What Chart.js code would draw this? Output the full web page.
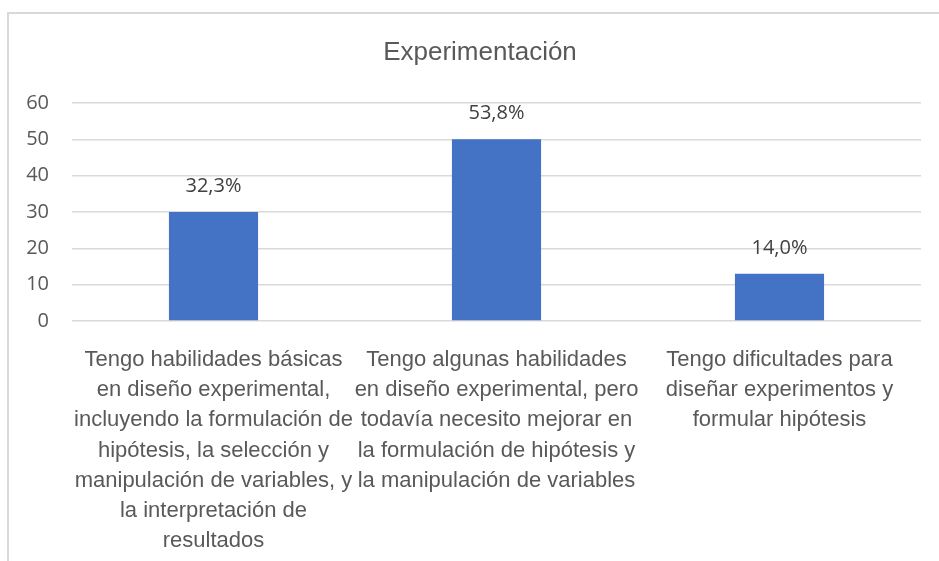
<!DOCTYPE html>
<html lang="es">
<head>
    <meta charset="UTF-8">
    <title>Experimentación</title>
    <script src="https://cdn.jsdelivr.net/npm/chart.js"></script>
    <style>
        body {
            margin: 0;
            background: #fff;
        }

        .wrap {
            position: relative;
            width: 939px;
            height: 561px;
        }

        .frame {
            position: absolute;
            left: 7px;
            top: 12px;
            width: 940px;
            height: 560px;
            border-left: 2px solid #d9d9d9;
            border-top: 2px solid #d9d9d9;
            pointer-events: none;
        }
    </style>
</head>
<body>
    <div class="wrap">
        <canvas id="chart" width="939" height="561"></canvas>
        <div class="frame"></div>
    </div>

    <script>
        const categories = [
            ['Tengo habilidades básicas', 'en diseño experimental,', 'incluyendo la formulación de', 'hipótesis, la selección y', 'manipulación de variables, y', 'la interpretación de', 'resultados'],
            ['Tengo algunas habilidades', 'en diseño experimental, pero', 'todavía necesito mejorar en', 'la formulación de hipótesis y', 'la manipulación de variables'],
            ['Tengo dificultades para', 'diseñar experimentos y', 'formular hipótesis']
        ];
        const values = [30, 50, 13];
        const valueLabels = ['32,3%', '53,8%', '14,0%'];
        const yTicks = [0, 10, 20, 30, 40, 50, 60];

        const labelFont = '"Liberation Sans", Arial, sans-serif';
        const sans = '"Open Sans", "Segoe UI", sans-serif';

        // percentage text above each bar + title position fix
        const barLabels = {
            id: 'barLabels',
            afterLayout(chart) {
                // centre the title a bit right of the canvas middle, like the original
                chart.titleBlock.left = 39;
                chart.titleBlock.right = 921;
            },
            afterDatasetsDraw(chart) {
                const ctx = chart.ctx;
                const meta = chart.getDatasetMeta(0);
                ctx.save();
                ctx.font = '20px ' + sans;
                ctx.fillStyle = '#404040';
                ctx.textAlign = 'center';
                ctx.textBaseline = 'alphabetic';
                meta.data.forEach((bar, i) => {
                    ctx.fillText(valueLabels[i], bar.x, bar.y - 20);
                });
                ctx.restore();
            }
        };

        const ctx = document.getElementById('chart').getContext('2d');
        new Chart(ctx, {
            type: 'bar',
            data: {
                labels: categories,
                datasets: [{
                    data: values,
                    backgroundColor: '#4472c4',
                    barPercentage: 0.315,
                    categoryPercentage: 1
                }]
            },
            options: {
                responsive: false,
                animation: false,
                layout: {
                    padding: { left: 18, right: 18, top: 0, bottom: 0 }
                },
                plugins: {
                    legend: { display: false },
                    tooltip: { enabled: false },
                    title: {
                        display: true,
                        text: 'Experimentación',
                        color: '#595959',
                        font: { family: labelFont, size: 26, weight: 'normal', lineHeight: 1.2 },
                        padding: { top: 37, bottom: 34.8 }
                    }
                },
                scales: {
                    x: {
                        grid: { display: false },
                        border: { display: false },
                        ticks: {
                            color: '#595959',
                            font: { family: labelFont, size: 22, lineHeight: 1.37 },
                            padding: 16,
                            maxRotation: 0,
                            autoSkip: false
                        },
                        afterFit(scale) {
                            scale.height = 240;
                        }
                    },
                    y: {
                        min: 0,
                        max: 60,
                        afterBuildTicks(scale) {
                            scale.ticks = yTicks.map(v => ({ value: v }));
                        },
                        grid: {
                            color: '#d9d9d9',
                            lineWidth: 1.5,
                            drawTicks: false
                        },
                        border: { display: false },
                        ticks: {
                            color: '#595959',
                            font: { family: sans, size: 20 },
                            padding: 23
                        },
                        afterFit(scale) {
                            scale.width = 54;
                        }
                    }
                }
            },
            plugins: [barLabels]
        });
    </script>
</body>
</html>
